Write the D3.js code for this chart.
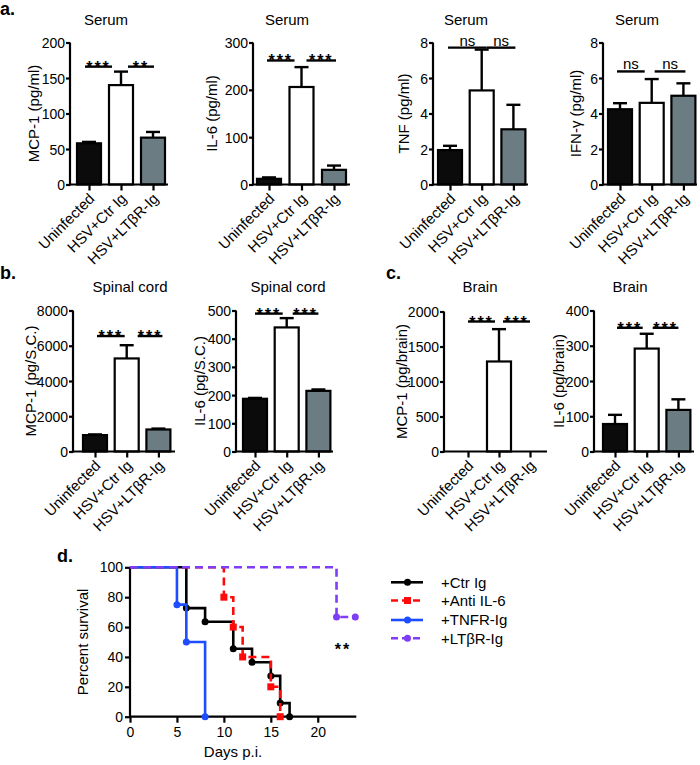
<!DOCTYPE html>
<html><head><meta charset="utf-8">
<script src="https://cdn.jsdelivr.net/npm/d3@7"></script>
<style>
body{margin:0;background:#fff}
svg{display:block}
text{font-family:"Liberation Sans",Arial,sans-serif;fill:#000}
</style>
</head><body>
<svg id="c" width="700" height="765"></svg>
<script>
// ---------- DATA ----------
const groups = ["Uninfected", "HSV+Ctr Ig", "HSV+LTβR-Ig"];

const serumMCP1 = [58, 140, 66];      const serumMCP1Err = [2, 19, 8];
const serumIL6 = [12, 206, 31];       const serumIL6Err = [3, 42, 9];
const serumTNF = [1.94, 5.3, 3.11];   const serumTNFErr = [0.24, 2.3, 1.38];
const serumIFNg = [4.24, 4.6, 5.0];   const serumIFNgErr = [0.34, 1.34, 0.7];
const spinalMCP1 = [930, 5280, 1250]; const spinalMCP1Err = [40, 750, 50];
const spinalIL6 = [187, 440, 215];    const spinalIL6Err = [3, 33, 5];
const brainMCP1 = [0, 1286, 0];       const brainMCP1Err = [0, 462, 0];
const brainIL6 = [78, 292, 118];      const brainIL6Err = [26, 42, 30];

const ticksSerumMCP1 = [0, 50, 100, 150, 200];
const ticksSerumIL6 = [0, 100, 200, 300];
const ticksSerumTNF = [0, 2, 4, 6, 8];
const ticksSerumIFNg = [0, 2, 4, 6, 8];
const ticksSpinalMCP1 = [0, 2000, 4000, 6000, 8000];
const ticksSpinalIL6 = [0, 100, 200, 300, 400, 500];
const ticksBrainMCP1 = [0, 500, 1000, 1500, 2000];
const ticksBrainIL6 = [0, 100, 200, 300, 400];

// significance: [from group, to group, label, level (data units)]
const sigSerumMCP1 = [[0, 1, "***", 166], [1, 2, "**", 166]];
const sigSerumIL6 = [[0, 1, "***", 262], [1, 2, "***", 262]];
const sigSerumTNF = [[0, 1, "ns", 7.71], [1, 2, "ns", 7.71]];
const sigSerumIFNg = [[0, 1, "ns", 6.37], [1, 2, "ns", 6.37]];
const sigSpinalMCP1 = [[0, 1, "***", 6550], [1, 2, "***", 6550]];
const sigSpinalIL6 = [[0, 1, "***", 489], [1, 2, "***", 489]];
const sigBrainMCP1 = [[0, 1, "***", 1857], [1, 2, "***", 1857]];
const sigBrainIL6 = [[0, 1, "***", 351], [1, 2, "***", 351]];

// survival
const survivalTicksX = [0, 5, 10, 15, 20];
const survivalTicksY = [0, 20, 40, 60, 80, 100];
const ctrIgDays = [0, 6, 8, 11, 13, 15, 16, 17];
const ctrIgSurv = [100, 72.7, 63.6, 45.5, 36.4, 27.3, 9.1, 0];
const antiIL6Days = [0, 10, 11, 12, 15, 16];
const antiIL6Surv = [100, 80, 60, 40, 20, 0];
const tnfrDays = [0, 5, 6, 8];
const tnfrSurv = [100, 75, 50, 0];
const ltbrDays = [0, 22, 24];
const ltbrSurv = [100, 66.7, 66.7];
const survivalNames = ["+Ctr Ig", "+Anti IL-6", "+TNFR-Ig", "+LTβR-Ig"];

// ---------- STYLE ----------
const barFill = ["#0b0b0b", "#ffffff", "#6b7c83"];
const FONT = 15;
const TICKFONT = 14;
const svg = d3.select("#c");

function barChart(cfg) {
  const g = svg.append("g");
  const y = d3.scaleLinear().domain([0, cfg.max]).range([cfg.yb, cfg.yt]);
  const x = d3.scalePoint().domain(groups).range([cfg.x0 + cfg.c0, cfg.x0 + cfg.c0 + 2 * cfg.step]);
  const bw = 24;

  // y axis
  const ya = g.append("g").attr("transform", `translate(${cfg.x0},0)`)
    .call(d3.axisLeft(y).tickValues(cfg.ticks).tickSize(4).tickSizeOuter(0).tickPadding(1).tickFormat(d3.format("d")));
  ya.select(".domain").attr("stroke-width", 2.2).attr("d", `M0,${cfg.yb + 1}V${cfg.yt}`);
  ya.selectAll(".tick line").attr("stroke-width", 2.2);
  ya.selectAll(".tick text").style("font-size", TICKFONT + "px").attr("dy", "0.36em");

  // bars
  groups.forEach((gr, i) => {
    const v = cfg.values[i], e = cfg.errors[i];
    if (v <= 0) return;
    const cx = x(gr);
    g.append("line").attr("x1", cx).attr("x2", cx).attr("y1", y(v)).attr("y2", y(v + e))
      .attr("stroke", "#000").attr("stroke-width", 2.4);
    g.append("line").attr("x1", cx - 7).attr("x2", cx + 7).attr("y1", y(v + e)).attr("y2", y(v + e))
      .attr("stroke", "#000").attr("stroke-width", 2.4);
    g.append("rect").attr("x", cx - bw / 2).attr("y", y(v)).attr("width", bw).attr("height", cfg.yb - y(v))
      .attr("fill", barFill[i]).attr("stroke", "#000").attr("stroke-width", 2.2);
  });

  // x axis
  const xa = g.append("g").attr("transform", `translate(0,${cfg.yb})`)
    .call(d3.axisBottom(x).tickSize(6).tickSizeOuter(0));
  xa.select(".domain").attr("stroke-width", 2.2).attr("d", `M${cfg.x0 - 1},0H${cfg.xEnd}`);
  xa.selectAll(".tick line").attr("stroke-width", 2.2);
  xa.selectAll(".tick text").style("font-size", FONT + "px")
    .attr("text-anchor", "end").attr("dy", 0).attr("y", 0)
    .attr("transform", "translate(6,15) rotate(-45)");

  // significance
  const offs = cfg.sigOff || [[-1, -5], [5, 1]];
  cfg.sig.forEach((s, k) => {
    const x1 = x(groups[s[0]]) + offs[k][0], x2 = x(groups[s[1]]) + offs[k][1];
    const yy = y(s[3]);
    g.append("line").attr("x1", x1).attr("x2", x2).attr("y1", yy).attr("y2", yy)
      .attr("stroke", "#000").attr("stroke-width", 2.4);
    const star = s[2].indexOf("*") >= 0;
    g.append("text").attr("x", (x1 + x2) / 2).attr("y", star ? yy + 6 : yy - 2)
      .attr("text-anchor", "middle")
      .style("font-size", star ? "16px" : FONT + "px")
      .style("font-weight", star ? "bold" : "normal")
      .style("letter-spacing", star ? "2px" : "0px")
      .text(s[2]);
  });

  // title and y label
  g.append("text").attr("x", cfg.titleX).attr("y", cfg.titleY).attr("text-anchor", "middle")
    .style("font-size", FONT + "px").text(cfg.title);
  g.append("text").attr("transform", `translate(${cfg.labelX},${(cfg.yb + cfg.yt) / 2}) rotate(-90)`)
    .attr("text-anchor", "middle").style("font-size", FONT + "px").text(cfg.ylabel);
}

const A = {yt: 42.5, yb: 184.5, titleY: 25};
const B = {yt: 310.5, yb: 451.5, titleY: 292};

barChart({...A, x0: 70, xEnd: 168, c0: 19, step: 32, max: 200, ticks: ticksSerumMCP1,
  values: serumMCP1, errors: serumMCP1Err, sig: sigSerumMCP1, sigOff: [[-4, -9], [7, 1]],
  title: "Serum", titleX: 106, ylabel: "MCP-1 (pg/ml)", labelX: 39});
barChart({...A, x0: 253, xEnd: 350, c0: 16, step: 32.5, max: 300, ticks: ticksSerumIL6,
  values: serumIL6, errors: serumIL6Err, sig: sigSerumIL6, sigOff: [[-2, -7], [5, 2]],
  title: "Serum", titleX: 287, ylabel: "IL-6 (pg/ml)", labelX: 217});
barChart({...A, x0: 433, xEnd: 528, c0: 17, step: 31.7, max: 8, ticks: ticksSerumTNF,
  values: serumTNF, errors: serumTNFErr, sig: sigSerumTNF, sigOff: [[-2, 5], [5, 2]],
  title: "Serum", titleX: 466, ylabel: "TNF (pg/ml)", labelX: 409});
barChart({...A, x0: 603, xEnd: 697, c0: 17, step: 31.7, max: 8, ticks: ticksSerumIFNg,
  values: serumIFNg, errors: serumIFNgErr, sig: sigSerumIFNg, sigOff: [[-3, -7], [3, 2]],
  title: "Serum", titleX: 637, ylabel: "IFN-γ (pg/ml)", labelX: 581});

barChart({...B, x0: 73, xEnd: 175, c0: 22, step: 31.7, max: 8000, ticks: ticksSpinalMCP1,
  values: spinalMCP1, errors: spinalMCP1Err, sig: sigSpinalMCP1, sigOff: [[2, -2], [11, 4]],
  title: "Spinal cord", titleX: 130, ylabel: "MCP-1 (pg/S.C.)", labelX: 36});
barChart({...B, x0: 236, xEnd: 333, c0: 19, step: 31.7, max: 500, ticks: ticksSpinalIL6,
  values: spinalIL6, errors: spinalIL6Err, sig: sigSpinalIL6, sigOff: [[0, -4], [6, 0]],
  title: "Spinal cord", titleX: 288, ylabel: "IL-6 (pg/S.C.)", labelX: 205});
barChart({...B, yt: 311.5, x0: 444, xEnd: 547, c0: 24, step: 31, max: 2000, ticks: ticksBrainMCP1,
  values: brainMCP1, errors: brainMCP1Err, sig: sigBrainMCP1, sigOff: [[0, -4], [4, 0]],
  title: "Brain", titleX: 480, ylabel: "MCP-1 (pg/brain)", labelX: 407});
barChart({...B, x0: 594, xEnd: 694, c0: 21, step: 31.7, max: 400, ticks: ticksBrainIL6,
  values: brainIL6, errors: brainIL6Err, sig: sigBrainIL6, sigOff: [[2, -4], [6, 0]],
  title: "Brain", titleX: 630, ylabel: "IL-6 (pg/brain)", labelX: 564});

// panel labels
[["a.", 0, 15], ["b.", 0, 279], ["c.", 386, 279], ["d.", 57, 562]].forEach(p => {
  svg.append("text").attr("x", p[1]).attr("y", p[2]).style("font-size", "18px")
    .style("font-weight", "bold").text(p[0]);
});

// ---------- survival ----------
const sx = d3.scaleLinear().domain([0, 24]).range([130, 355.3]);
const sy = d3.scaleLinear().domain([0, 100]).range([716.7, 567.3]);
const sg = svg.append("g");
const sxa = sg.append("g").attr("transform", `translate(0,${sy(0)})`)
  .call(d3.axisBottom(sx).tickValues(survivalTicksX).tickSize(6).tickSizeOuter(0).tickPadding(4));
sxa.select(".domain").attr("stroke-width", 2.2).attr("d", `M${sx(0) - 1},0H${sx(24) + 1}`);
sxa.selectAll(".tick line").attr("stroke-width", 2.2);
sxa.selectAll(".tick text").style("font-size", TICKFONT + "px");
const sya = sg.append("g").attr("transform", `translate(${sx(0)},0)`)
  .call(d3.axisLeft(sy).tickValues(survivalTicksY).tickSize(5).tickSizeOuter(0).tickPadding(2));
sya.select(".domain").attr("stroke-width", 2.2).attr("d", `M0,${sy(0) + 1}V${sy(100)}`);
sya.selectAll(".tick line").attr("stroke-width", 2.2);
sya.selectAll(".tick text").style("font-size", TICKFONT + "px");

sg.append("text").attr("x", 233).attr("y", 757).attr("text-anchor", "middle")
  .style("font-size", FONT + "px").text("Days p.i.");
sg.append("text").attr("transform", `translate(88,${(sy(0) + sy(100)) / 2}) rotate(-90)`)
  .attr("text-anchor", "middle").style("font-size", FONT + "px").text("Percent survival");

const series = [
  {days: ctrIgDays, surv: ctrIgSurv, color: "#000000", dash: null, marker: "circle"},
  {days: antiIL6Days, surv: antiIL6Surv, color: "#ff0a0a", dash: "8,5", marker: "square"},
  {days: tnfrDays, surv: tnfrSurv, color: "#1d4dff", dash: null, marker: "circle"},
  {days: ltbrDays, surv: ltbrSurv, color: "#7f3df5", dash: "8,5", marker: "circle"}
];
const line = d3.line().x(d => sx(d[0])).y(d => sy(d[1])).curve(d3.curveStepAfter);
function marker(sel, kind, cx, cy, color) {
  if (kind === "square") {
    sel.append("rect").attr("x", cx - 3.5).attr("y", cy - 3.5).attr("width", 7).attr("height", 7).attr("fill", color);
  } else {
    sel.append("circle").attr("cx", cx).attr("cy", cy).attr("r", 3.5).attr("fill", color);
  }
}
series.forEach(s => {
  const pts = s.days.map((d, i) => [d, s.surv[i]]);
  sg.append("path").attr("d", line(pts)).attr("fill", "none").attr("stroke", s.color)
    .attr("stroke-width", 2.6).attr("stroke-dasharray", s.dash);
  pts.slice(1).forEach(p => marker(sg, s.marker, sx(p[0]), sy(p[1]), s.color));
});
sg.append("text").attr("x", 343).attr("y", 655).attr("text-anchor", "middle")
  .style("font-size", "16px").style("font-weight", "bold").style("letter-spacing", "2px").text("**");

// legend
const legY = [582.3, 600.5, 620, 638.3];
series.forEach((s, i) => {
  const lg = svg.append("g");
  lg.append("line").attr("x1", 391).attr("x2", 423).attr("y1", legY[i]).attr("y2", legY[i])
    .attr("stroke", s.color).attr("stroke-width", 2.6).attr("stroke-dasharray", s.dash ? "7,4" : null);
  marker(lg, s.marker, 407.5, legY[i], s.color);
  lg.append("text").attr("x", 441).attr("y", legY[i]).attr("dy", "0.36em")
    .style("font-size", FONT + "px").text(survivalNames[i]);
});
</script>
</body></html>
